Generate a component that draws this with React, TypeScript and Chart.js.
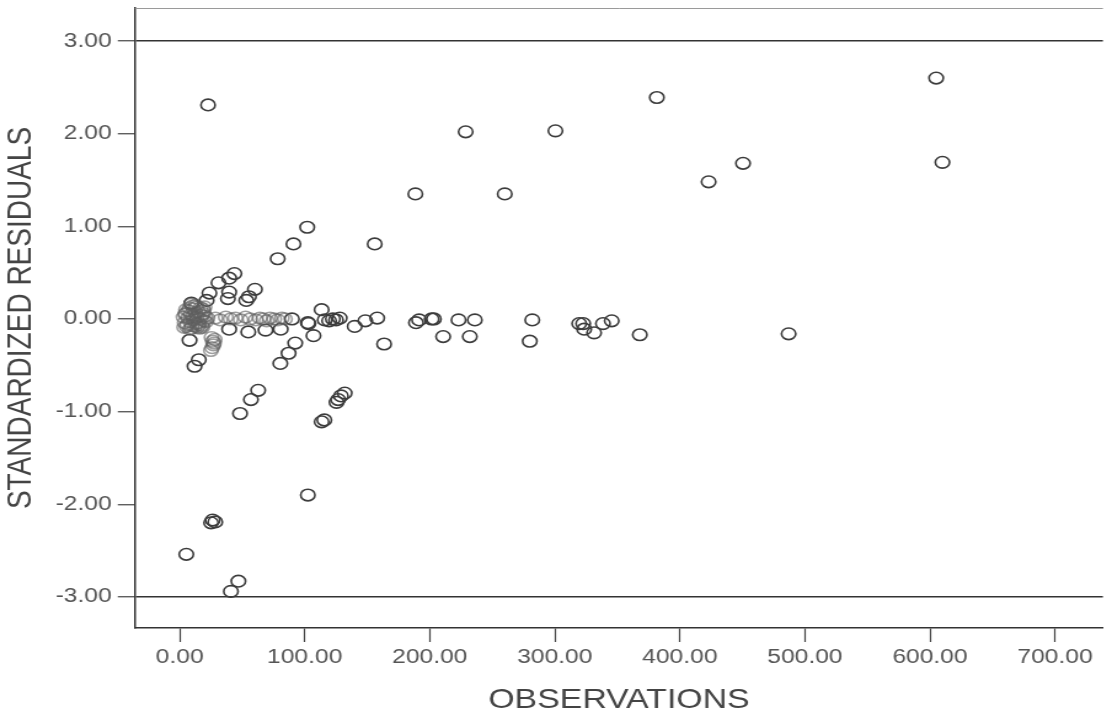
import React, { useEffect, useRef } from "react";
import { Chart, registerables } from "chart.js";

Chart.register(...registerables);

// Axis ticks and reference lines
const X_TICKS = [0, 100, 200, 300, 400, 500, 600, 700];
const Y_TICKS = [-3, -2, -1, 0, 1, 2, 3];
const REF_LINES = [-3, 3];

// Scattered observations (observation value, standardized residual)
const spreadObs = [
  22.7, 228.7, 300.5, 381.6, 605, 610, 450.5, 423, 188.5, 260, 102, 91, 156, 78.4,
  43.8, 39.6, 31.1, 23.8, 21.6, 39.6, 38.6, 60.2, 55.4, 53.3, 9.3,
  7.9, 15.3, 11.9, 92.4, 87.1, 80.5, 62.8, 57, 48.3,
  132, 129, 126.7, 125.4, 113.5, 115.7, 102.5, 26.4, 28.5, 25.1, 5.3, 47, 41,
  89.8, 103, 113.5, 107, 102.5, 116, 119.5, 122.5, 125, 128, 140, 148.5, 158, 163.5,
  189, 191.5, 201.5, 203.3, 210.7, 223, 236, 232, 282, 280,
  319.5, 322.7, 323.5, 331.4, 338.5, 345.5, 368, 487,
  39.6, 54.9, 68.7, 80.8,
];
const spreadRes = [
  2.31, 2.02, 2.03, 2.39, 2.6, 1.69, 1.68, 1.48, 1.35, 1.35, 0.99, 0.81, 0.81, 0.65,
  0.49, 0.44, 0.39, 0.28, 0.2, 0.29, 0.22, 0.32, 0.24, 0.2, 0.17,
  -0.23, -0.44, -0.51, -0.26, -0.37, -0.48, -0.77, -0.87, -1.02,
  -0.8, -0.83, -0.87, -0.9, -1.11, -1.09, -1.9, -2.17, -2.19, -2.2, -2.54, -2.83, -2.94,
  0.0, -0.05, 0.1, -0.18, -0.04, -0.01, -0.02, 0.0, -0.01, 0.01, -0.08, -0.02, 0.01, -0.27,
  -0.04, -0.01, 0.0, 0.0, -0.19, -0.01, -0.01, -0.19, -0.01, -0.24,
  -0.05, -0.05, -0.11, -0.15, -0.05, -0.02, -0.17, -0.16,
  -0.11, -0.14, -0.12, -0.11,
];

// Heavily overlapping observations close to zero
const denseObs = [
  3.1, 4.0, 4.8, 5.5, 6.7, 7.2, 8.4, 9.0, 9.9, 10.6, 11.3, 12.5, 13.0, 13.8, 14.9,
  15.4, 16.2, 17.5, 18.1, 18.9, 19.6, 20.3, 3.6, 5.1, 6.2, 7.9, 9.4, 11.0, 12.2, 13.5,
  15.0, 16.7, 17.8, 19.2, 4.5, 8.1, 10.3, 14.2, 18.4, 21.0, 9.2, 12.9, 16.0, 19.9, 22.3,
  25.5, 26.5, 27.0, 26.0, 25.0, 27.5, 28.0,
  28.6, 32.4, 36.9, 40.8, 44.6, 48.9, 52.7, 56.3, 60.8, 64.1, 66.9, 69.5, 72.2, 75.6,
  78.3, 81.7, 84.2,
];
const denseRes = [
  0.02, -0.04, 0.06, -0.08, 0.01, 0.09, -0.03, 0.05, -0.07, 0.03, -0.01, 0.07, -0.05, 0.02, 0.08,
  -0.06, 0.0, 0.04, -0.09, 0.06, -0.02, 0.03, -0.09, 0.1, -0.06, 0.12, -0.1, 0.11, -0.08, 0.13,
  -0.04, 0.12, -0.07, 0.09, 0.05, -0.11, 0.14, -0.09, 0.11, -0.03, 0.16, 0.15, -0.1, 0.13, 0.01,
  -0.2, -0.24, -0.28, -0.31, -0.34, -0.26, -0.22,
  0.01, -0.01, 0.02, 0.0, 0.01, -0.01, 0.02, 0.0, -0.01, 0.01, 0.0, -0.02, 0.01, 0.0,
  -0.01, 0.01, 0.0,
];

const FONT = "Arial, 'Liberation Sans', Helvetica, sans-serif";
const CANVAS_W = 904;
const CANVAS_H = 714;

const toPoints = (xs: number[], ys: number[]) => xs.map((x, i) => ({ x, y: ys[i] }));

const topBorder = {
  id: "topBorder",
  afterDraw(chart: any) {
    const { ctx, chartArea } = chart;
    ctx.save();
    ctx.strokeStyle = "#9a9a9a";
    ctx.lineWidth = 1;
    ctx.beginPath();
    ctx.moveTo(chartArea.left, chartArea.top + 0.5);
    ctx.lineTo(chartArea.right, chartArea.top + 0.5);
    ctx.stroke();
    ctx.restore();
  },
};

export default function App() {
  const ref = useRef<HTMLCanvasElement | null>(null);

  useEffect(() => {
    if (!ref.current) return;
    const chart = new Chart(ref.current, {
      type: "scatter",
      data: {
        datasets: [
          {
            data: toPoints(denseObs, denseRes),
            borderColor: "rgba(95,95,95,0.6)",
            backgroundColor: "rgba(0,0,0,0)",
            borderWidth: 1.6,
            pointRadius: 5.8,
            pointStyle: "circle",
          },
          {
            data: toPoints(spreadObs, spreadRes),
            borderColor: "#3c3c3c",
            backgroundColor: "rgba(0,0,0,0)",
            borderWidth: 1.6,
            pointRadius: 5.8,
            pointStyle: "circle",
          },
        ],
      },
      options: {
        responsive: false,
        animation: false,
        devicePixelRatio: 1,
        layout: { padding: { top: 8, left: 0, right: 0, bottom: 0 } },
        plugins: { legend: { display: false }, tooltip: { enabled: false } },
        scales: {
          x: {
            type: "linear",
            min: -35.7,
            max: 738.3,
            afterBuildTicks: (s: any) => {
              s.ticks = X_TICKS.map((v) => ({ value: v }));
            },
            afterFit: (s: any) => {
              s.height = 86;
              s.paddingLeft = 0;
              s.paddingRight = 0;
            },
            grid: {
              drawOnChartArea: false,
              drawTicks: true,
              tickLength: 14,
              tickColor: "#444",
              tickWidth: 1.2,
            },
            border: { display: true, color: "#333", width: 1.5 },
            ticks: {
              font: { family: FONT, size: 20 },
              color: "#555",
              padding: 3,
              maxRotation: 0,
              autoSkip: false,
              callback: (v: any) => Number(v).toFixed(2),
            },
            title: {
              display: true,
              text: "OBSERVATIONS",
              font: { family: FONT, size: 27.5, lineHeight: 1.0 },
              color: "#444",
              padding: { top: 0, bottom: 0 },
            },
          },
          y: {
            type: "linear",
            min: -3.335,
            max: 3.356,
            afterBuildTicks: (s: any) => {
              s.ticks = Y_TICKS.map((v) => ({ value: v }));
            },
            afterFit: (s: any) => {
              s.width = 109.75;
              s.paddingTop = 0;
              s.paddingBottom = 0;
            },
            grid: {
              drawOnChartArea: true,
              color: (ctx: any) =>
                ctx.tick && REF_LINES.includes(ctx.tick.value) ? "#333" : "rgba(0,0,0,0)",
              lineWidth: 1.5,
              drawTicks: true,
              tickLength: 14,
              tickColor: "#444",
              tickWidth: 1.2,
            },
            border: { display: true, color: "#333", width: 1.5 },
            ticks: {
              font: { family: FONT, size: 20 },
              color: "#555",
              padding: 5,
              autoSkip: false,
              callback: (v: any) => Number(v).toFixed(2),
            },
            title: {
              display: true,
              text: "STANDARDIZED RESIDUALS",
              font: { family: FONT, size: 28 },
              color: "#444",
              padding: { top: 0, bottom: 0 },
            },
          },
        },
      },
      plugins: [topBorder],
    });
    return () => chart.destroy();
  }, []);

  return (
    <div style={{ position: "fixed", left: 0, top: 0, width: 1112, height: 714, background: "#fff" }}>
      <canvas
        ref={ref}
        width={CANVAS_W}
        height={CANVAS_H}
        style={{ display: "block", width: "1112px", height: "714px" }}
      />
    </div>
  );
}
